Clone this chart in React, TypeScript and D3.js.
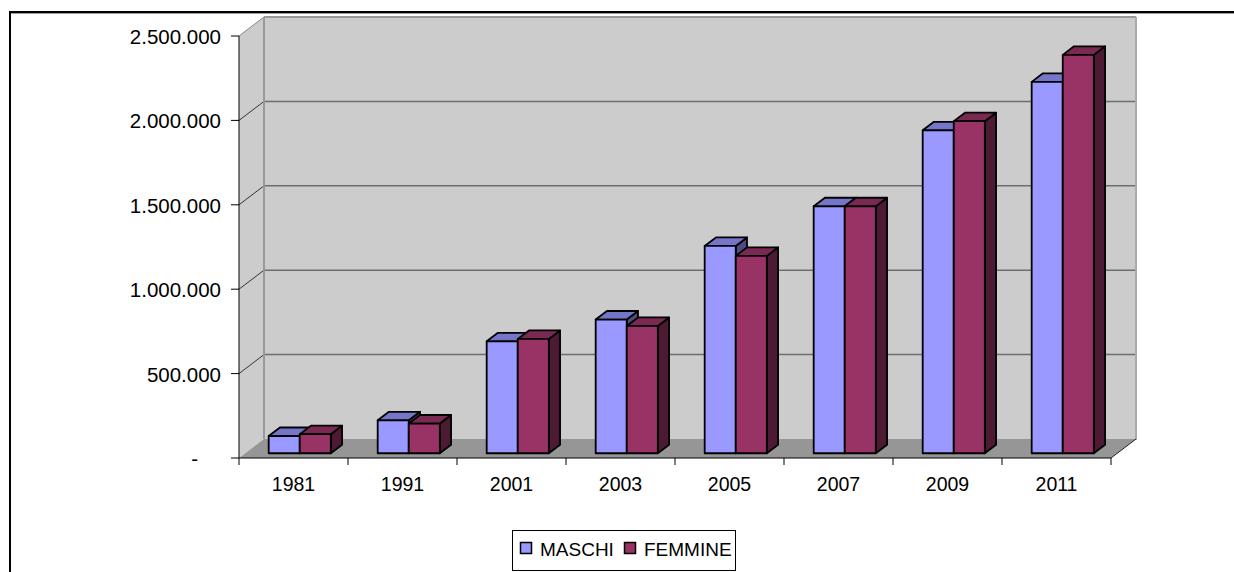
import * as d3 from 'd3';
import React, { useEffect, useRef } from 'react';

const years = ['1981', '1991', '2001', '2003', '2005', '2007', '2009', '2011'];
const seriesNames = ['MASCHI', 'FEMMINE'];
const maschi = [102000, 195000, 663000, 792000, 1228000, 1463000, 1913000, 2200000];
const femmine = [113000, 176000, 677000, 754000, 1169000, 1463000, 1967000, 2360000];
const yTicks = [0, 500000, 1000000, 1500000, 2000000, 2500000];

const faceColors = [
  { front: '#9999FF', top: '#7676C9', side: '#4C4C80' },
  { front: '#993366', top: '#7A2952', side: '#4D1A33' },
];

const App: React.FC = () => {
  const svgRef = useRef<SVGSVGElement>(null);

  useEffect(() => {
    if (!svgRef.current) return;
    const svg = d3.select(svgRef.current);
    svg.selectAll('*').remove();

    const width = 1234;
    const height = 572;
    const font = '"Liberation Sans", Arial, sans-serif';

    // front plane of the plot and full depth offset
    const left = 239;
    const right = 1111;
    const top = 36;
    const bottom = 458;
    const DX = 25;
    const DY = -19;
    const P = (x: number, y: number, d: number): [number, number] => [x + d * DX, y + d * DY];
    const pts = (arr: [number, number][]) => arr.map(p => p.join(',')).join(' ');

    const it = d3.formatLocale({ decimal: ',', thousands: '.', grouping: [3], currency: ['€', ''] });
    const fmt = (v: number) => (v === 0 ? '-' : it.format(',.0f')(v));

    const y = d3.scaleLinear().domain([0, 2500000]).range([bottom, top]);
    const x0 = d3.scaleBand<string>().domain(years).range([left, right]).paddingInner(0.43).paddingOuter(0.215);
    const x1 = d3.scaleBand<string>().domain(seriesNames).range([0, x0.bandwidth()]);
    const step = x0.step();

    svg.attr('width', width).attr('height', height);

    // outer chart border (only top and left visible)
    svg.append('line').attr('x1', 10).attr('x2', width).attr('y1', 12).attr('y2', 12)
      .attr('stroke', '#000').attr('stroke-width', 2);
    svg.append('line').attr('x1', 10).attr('x2', width).attr('y1', 13.5).attr('y2', 13.5)
      .attr('stroke', '#999').attr('stroke-width', 1);
    svg.append('line').attr('x1', 10).attr('x2', 10).attr('y1', 11).attr('y2', height)
      .attr('stroke', '#000').attr('stroke-width', 2);

    // back wall
    const [bx0, by0] = P(left, top, 1);
    const [bx1, by1] = P(right, bottom, 1);
    svg.append('rect').attr('x', bx0).attr('y', by0).attr('width', bx1 - bx0).attr('height', by1 - by0)
      .attr('fill', '#CCCCCC');

    // side wall
    svg.append('polygon')
      .attr('points', pts([[left, top], P(left, top, 1), P(left, bottom, 1), [left, bottom]]))
      .attr('fill', '#CCCCCC');

    // floor
    svg.append('polygon')
      .attr('points', pts([[left, bottom], [right, bottom], P(right, bottom, 1), P(left, bottom, 1)]))
      .attr('fill', '#969696');

    // gridlines on back wall and side wall
    yTicks.filter(t => t > 0).forEach(t => {
      const yy = y(t);
      const [gx0, gy] = P(left, yy, 1);
      const [gx1] = P(right, yy, 1);
      const isTop = t === 2500000;
      svg.append('line').attr('x1', gx0).attr('x2', gx1).attr('y1', gy).attr('y2', gy)
        .attr('stroke', isTop ? '#999' : '#6E6E6E').attr('stroke-width', isTop ? 2 : 1.5);
      svg.append('line').attr('x1', left).attr('y1', yy).attr('x2', gx0).attr('y2', gy)
        .attr('stroke', isTop ? '#888' : '#333').attr('stroke-width', 1);
    });

    // wall edges
    const [lx, ly0] = P(left, top, 1);
    const [, ly1] = P(left, bottom, 1);
    svg.append('line').attr('x1', lx).attr('x2', lx).attr('y1', ly0).attr('y2', ly1)
      .attr('stroke', '#999').attr('stroke-width', 2);
    const [rx] = P(right, top, 1);
    svg.append('line').attr('x1', rx).attr('x2', rx).attr('y1', ly0).attr('y2', ly1 + 1)
      .attr('stroke', '#AAA').attr('stroke-width', 2);
    svg.append('line').attr('x1', right).attr('y1', bottom).attr('x2', rx).attr('y2', ly1)
      .attr('stroke', '#222').attr('stroke-width', 1);

    // bars
    const d0 = 0.25;
    const d1 = 0.7;
    const data = [maschi, femmine];
    years.forEach((yr, i) => {
      seriesNames.forEach((s, k) => {
        const v = data[k][i];
        const c = faceColors[k];
        const xa = (x0(yr) as number) + (x1(s) as number);
        const xb = xa + x1.bandwidth();
        const yt = y(v);
        const yb = y(0);
        const fA = P(xa, yt, d0), fB = P(xb, yt, d0), fC = P(xb, yb, d0), fD = P(xa, yb, d0);
        const bA = P(xa, yt, d1), bB = P(xb, yt, d1), bC = P(xb, yb, d1);
        const g = svg.append('g').attr('stroke', '#000').attr('stroke-width', 1.8).attr('stroke-linejoin', 'round');
        g.append('polygon').attr('points', pts([fB, bB, bC, fC])).attr('fill', c.side);
        g.append('polygon').attr('points', pts([fA, bA, bB, fB])).attr('fill', c.top);
        g.append('polygon').attr('points', pts([fA, fB, fC, fD])).attr('fill', c.front);
      });
    });

    // front y axis
    svg.append('line').attr('x1', left).attr('x2', left).attr('y1', top).attr('y2', bottom)
      .attr('stroke', '#000').attr('stroke-width', 1);
    yTicks.forEach(t => {
      svg.append('line').attr('x1', left - 8).attr('x2', left).attr('y1', y(t)).attr('y2', y(t))
        .attr('stroke', '#000').attr('stroke-width', 1);
      svg.append('text').attr('x', t === 0 ? 198 : 221).attr('y', y(t) + 8)
        .attr('text-anchor', 'end').attr('font-family', font).attr('font-size', 20.5).attr('fill', '#000')
        .text(fmt(t));
    });

    // front x axis
    svg.append('line').attr('x1', left).attr('x2', right).attr('y1', bottom).attr('y2', bottom)
      .attr('stroke', '#000').attr('stroke-width', 1);
    d3.range(years.length + 1).forEach(i => {
      const xx = left + i * step;
      svg.append('line').attr('x1', xx).attr('x2', xx).attr('y1', bottom).attr('y2', bottom + 7)
        .attr('stroke', '#000').attr('stroke-width', 1);
    });
    years.forEach(yr => {
      svg.append('text').attr('x', left + years.indexOf(yr) * step + step / 2).attr('y', 491)
        .attr('text-anchor', 'middle').attr('font-family', font).attr('font-size', 19.5).attr('fill', '#000')
        .text(yr);
    });

    // legend
    const lg = svg.append('g');
    lg.append('rect').attr('x', 512.5).attr('y', 530.5).attr('width', 223).attr('height', 40)
      .attr('fill', '#fff').attr('stroke', '#000').attr('stroke-width', 1);
    const legendX = [520, 624];
    seriesNames.forEach((s, k) => {
      lg.append('rect').attr('x', legendX[k] + 0.5).attr('y', 542.5).attr('width', 11).attr('height', 11)
        .attr('fill', faceColors[k].front).attr('stroke', '#000').attr('stroke-width', 1.5);
      lg.append('text').attr('x', legendX[k] + 20).attr('y', 555.5)
        .attr('font-family', font).attr('font-size', 19).attr('fill', '#000')
        .text(s);
    });
  }, []);

  return (
    <div style={{ position: 'absolute', left: 0, top: 0 }}>
      <svg ref={svgRef} style={{ display: 'block' }} />
    </div>
  );
};

export default App;
